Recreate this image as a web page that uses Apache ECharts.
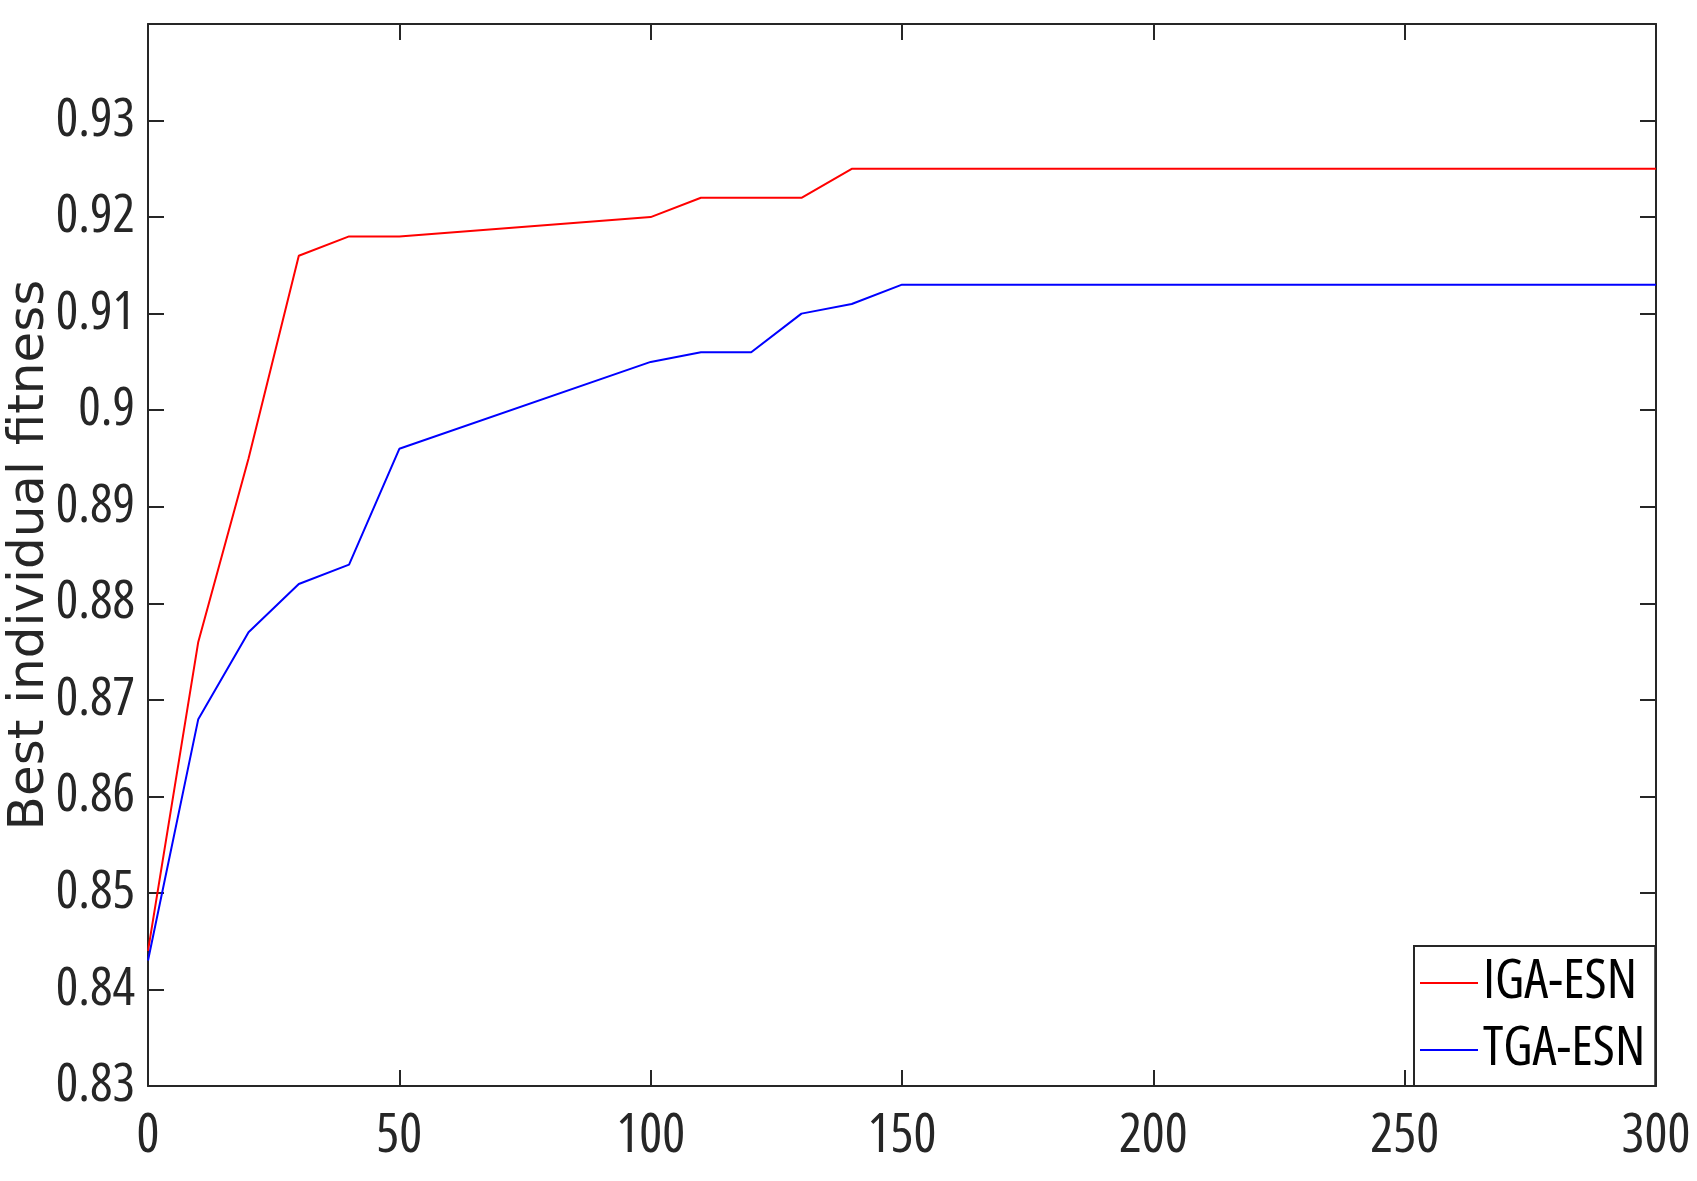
<!DOCTYPE html>
<html>
<head>
<meta charset="utf-8">
<script src="https://cdn.jsdelivr.net/npm/echarts@6/dist/echarts.min.js"></script>
<style>
  html, body { margin: 0; padding: 0; background: #fff; }
  #chart { width: 1697px; height: 1181px; }
</style>
</head>
<body>
<div id="chart"></div>
<script>
// 데이터
const igaGen = [0, 10, 20, 30, 40, 50, 100, 110, 130, 140, 300];
const igaFit = [0.844, 0.876, 0.895, 0.916, 0.918, 0.918, 0.920, 0.922, 0.922, 0.925, 0.925];
const tgaGen = [0, 10, 20, 30, 40, 50, 100, 110, 120, 130, 140, 150, 300];
const tgaFit = [0.843, 0.868, 0.877, 0.882, 0.884, 0.896, 0.905, 0.906, 0.906, 0.910, 0.911, 0.913, 0.913];
const seriesNames = ['IGA-ESN', 'TGA-ESN'];
const xTicks = { min: 0, max: 300, step: 50 };
const yTicks = { min: 0.83, max: 0.94, step: 0.01 };

const AXIS_COLOR = '#262626';
// 원본처럼 좁은 글꼴: Open Sans 의 condensed 폭 사용
const COND = { fontStyle: 'normal condensed', fontFamily: '"Open Sans", "Liberation Sans", sans-serif' };

function pairs(xs, ys) {
    return xs.map((x, i) => [x, ys[i]]);
}

const chart = echarts.init(document.getElementById('chart'));

// 공통 축 스타일
const axisLine = { show: true, onZero: false, lineStyle: { color: AXIS_COLOR, width: 2 } };
const axisTick = { show: true, inside: true, length: 16, lineStyle: { color: AXIS_COLOR, width: 2 } };

chart.setOption({
    animation: false,
    backgroundColor: '#fff',
    grid: { left: 148, right: 41, top: 24, bottom: 95, outerBoundsMode: 'none' },
    legend: {
        orient: 'vertical',
        left: 1414,
        top: 946,
        data: seriesNames,
        itemWidth: 58,
        itemHeight: 52,
        itemGap: 13,
        padding: [10, 10, 9, 5],
        borderColor: AXIS_COLOR,
        borderWidth: 2,
        borderRadius: 0,
        backgroundColor: '#fff',
        itemStyle: { opacity: 0 },   // 범례에는 선만 (심볼 숨김)
        lineStyle: { width: 2 },
        textStyle: Object.assign({ fontSize: 54, color: '#000' }, COND)
    },
    xAxis: [{
        type: 'value',
        min: xTicks.min,
        max: xTicks.max,
        interval: xTicks.step,
        axisLine: axisLine,
        axisTick: axisTick,
        splitLine: { show: false },
        axisLabel: Object.assign({ fontSize: 54, color: AXIS_COLOR, margin: 24 }, COND)
    }, {
        // 위쪽 테두리 (눈금만)
        type: 'value',
        position: 'top',
        min: xTicks.min,
        max: xTicks.max,
        interval: xTicks.step,
        axisLine: axisLine,
        axisTick: axisTick,
        splitLine: { show: false },
        axisLabel: { show: false }
    }],
    yAxis: [{
        type: 'value',
        min: yTicks.min,
        max: yTicks.max,
        interval: yTicks.step,
        name: 'Best individual fitness',
        nameLocation: 'middle',
        nameGap: 93,
        nameMoveOverlap: false,
        nameTextStyle: { fontFamily: '"DejaVu Sans", sans-serif', fontSize: 50, color: AXIS_COLOR },
        axisLine: axisLine,
        axisTick: axisTick,
        splitLine: { show: false },
        axisLabel: Object.assign({
            fontSize: 53, color: AXIS_COLOR, margin: 13,
            formatter: v => (Math.abs(v - yTicks.max) < 1e-9 ? '' : String(+v.toFixed(2)))
        }, COND)
    }, {
        // 오른쪽 테두리 (눈금만)
        type: 'value',
        position: 'right',
        min: yTicks.min,
        max: yTicks.max,
        interval: yTicks.step,
        axisLine: axisLine,
        axisTick: axisTick,
        splitLine: { show: false },
        axisLabel: { show: false }
    }],
    series: [{
        name: seriesNames[0],
        type: 'line',
        data: pairs(igaGen, igaFit),
        symbol: 'none',
        lineStyle: { color: '#ff0000', width: 2 },
        itemStyle: { color: '#ff0000' }
    }, {
        name: seriesNames[1],
        type: 'line',
        data: pairs(tgaGen, tgaFit),
        symbol: 'none',
        lineStyle: { color: '#0000ff', width: 2 },
        itemStyle: { color: '#0000ff' }
    }]
});
</script>
</body>
</html>
